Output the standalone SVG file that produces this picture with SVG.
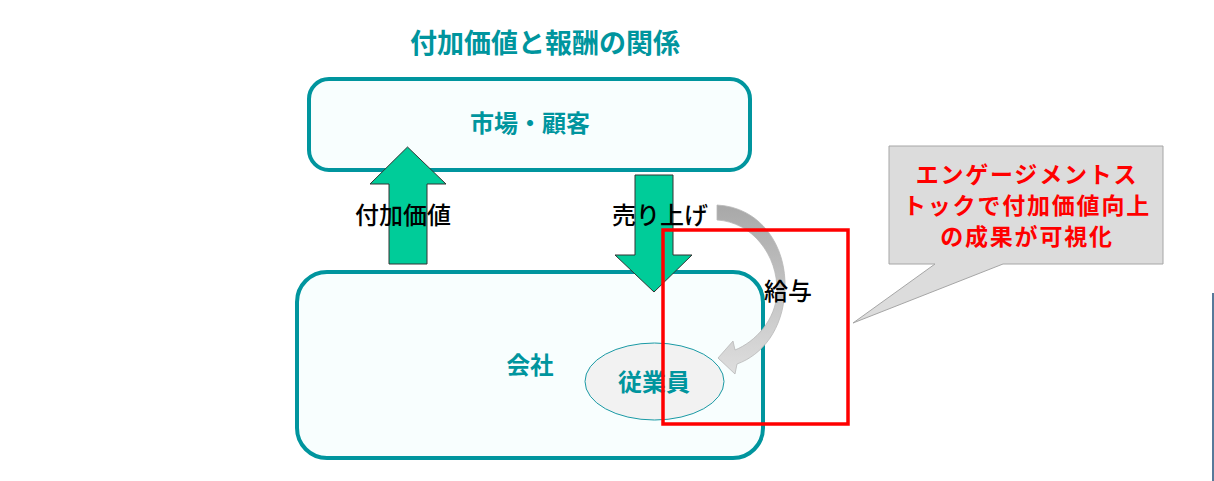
<svg xmlns="http://www.w3.org/2000/svg" width="1214" height="481" viewBox="0 0 1214 481">
<defs>
<linearGradient id="gray" x1="0" y1="0" x2="0" y2="1">
<stop offset="0" stop-color="#a8a8a8"/>
<stop offset="1" stop-color="#dedede"/>
</linearGradient>
<style>
.box{fill:#f8fefe;stroke:#00959e;stroke-width:4}
.teal{fill:#00959e;font-family:"Noto Sans CJK JP",sans-serif;font-weight:bold;text-anchor:middle}
.blk{fill:#000;font-family:"Noto Sans CJK JP",sans-serif;font-weight:500;text-anchor:middle;font-size:24px}
.red{fill:#ff0000;font-family:"Noto Sans CJK JP",sans-serif;font-weight:bold;text-anchor:middle;font-size:23px;letter-spacing:1.8px}
.garrow{fill:#00cc99;stroke:#333;stroke-width:1}
</style>
</defs>
<rect width="1214" height="481" fill="#fff"/>
<text class="teal" x="545" y="53" font-size="27">付加価値と報酬の関係</text>
<g id="market">
<rect class="box" x="309" y="79" width="441" height="91" rx="20"/>
<text class="teal" x="530" y="132" font-size="24">市場・顧客</text>
</g>
<g id="company">
<rect class="box" x="297" y="272" width="466" height="186" rx="30"/>
<text class="teal" x="530" y="374" font-size="23.5">会社</text>
</g>
<g id="employee">
<ellipse cx="654.5" cy="381.5" rx="69.5" ry="38.5" fill="#f2f2f2" stroke="#1a9aa5" stroke-width="1"/>
<text class="teal" x="654" y="391" font-size="24">従業員</text>
</g>
<g id="connectors">
<polygon class="garrow" points="407.5,147 446,184 427,184 427,264 389,264 389,184 370,184"/>
<polygon class="garrow" points="635,175 673,175 673,255 692,255 654,292 615,255 635,255"/>
<path d="M717,205 C760,207 787,245 785,290 C783,330 762,355 737,364 L735,374 L718,358 L733,341 L735,350 C755,342 776,320 777,292 C778,255 752,222 717,220 Z" fill="url(#gray)" stroke="#b8b8b8" stroke-width="0.8"/>
<text class="blk" x="403" y="224">付加価値</text>
<text class="blk" x="660" y="224">売り上げ</text>
<text class="blk" x="788" y="300">給与</text>
</g>
<g id="highlight">
<rect x="663" y="230" width="185" height="194" fill="none" stroke="#ff0000" stroke-width="3.5"/>
</g>
<g id="callout">
<path d="M889,146 H1163 V264 H1003 L853,323 L935,264 H889 Z" fill="#dcdcdc" stroke="#a6a6a6" stroke-width="1"/>
<text class="red" x="1027" y="183">エンゲージメントス</text>
<text class="red" x="1027" y="214">トックで付加価値向上</text>
<text class="red" x="1027" y="245">の成果が可視化</text>
</g>
<line x1="1213" y1="293" x2="1213" y2="481" stroke="#1f4e79" stroke-width="1.5"/>
</svg>
